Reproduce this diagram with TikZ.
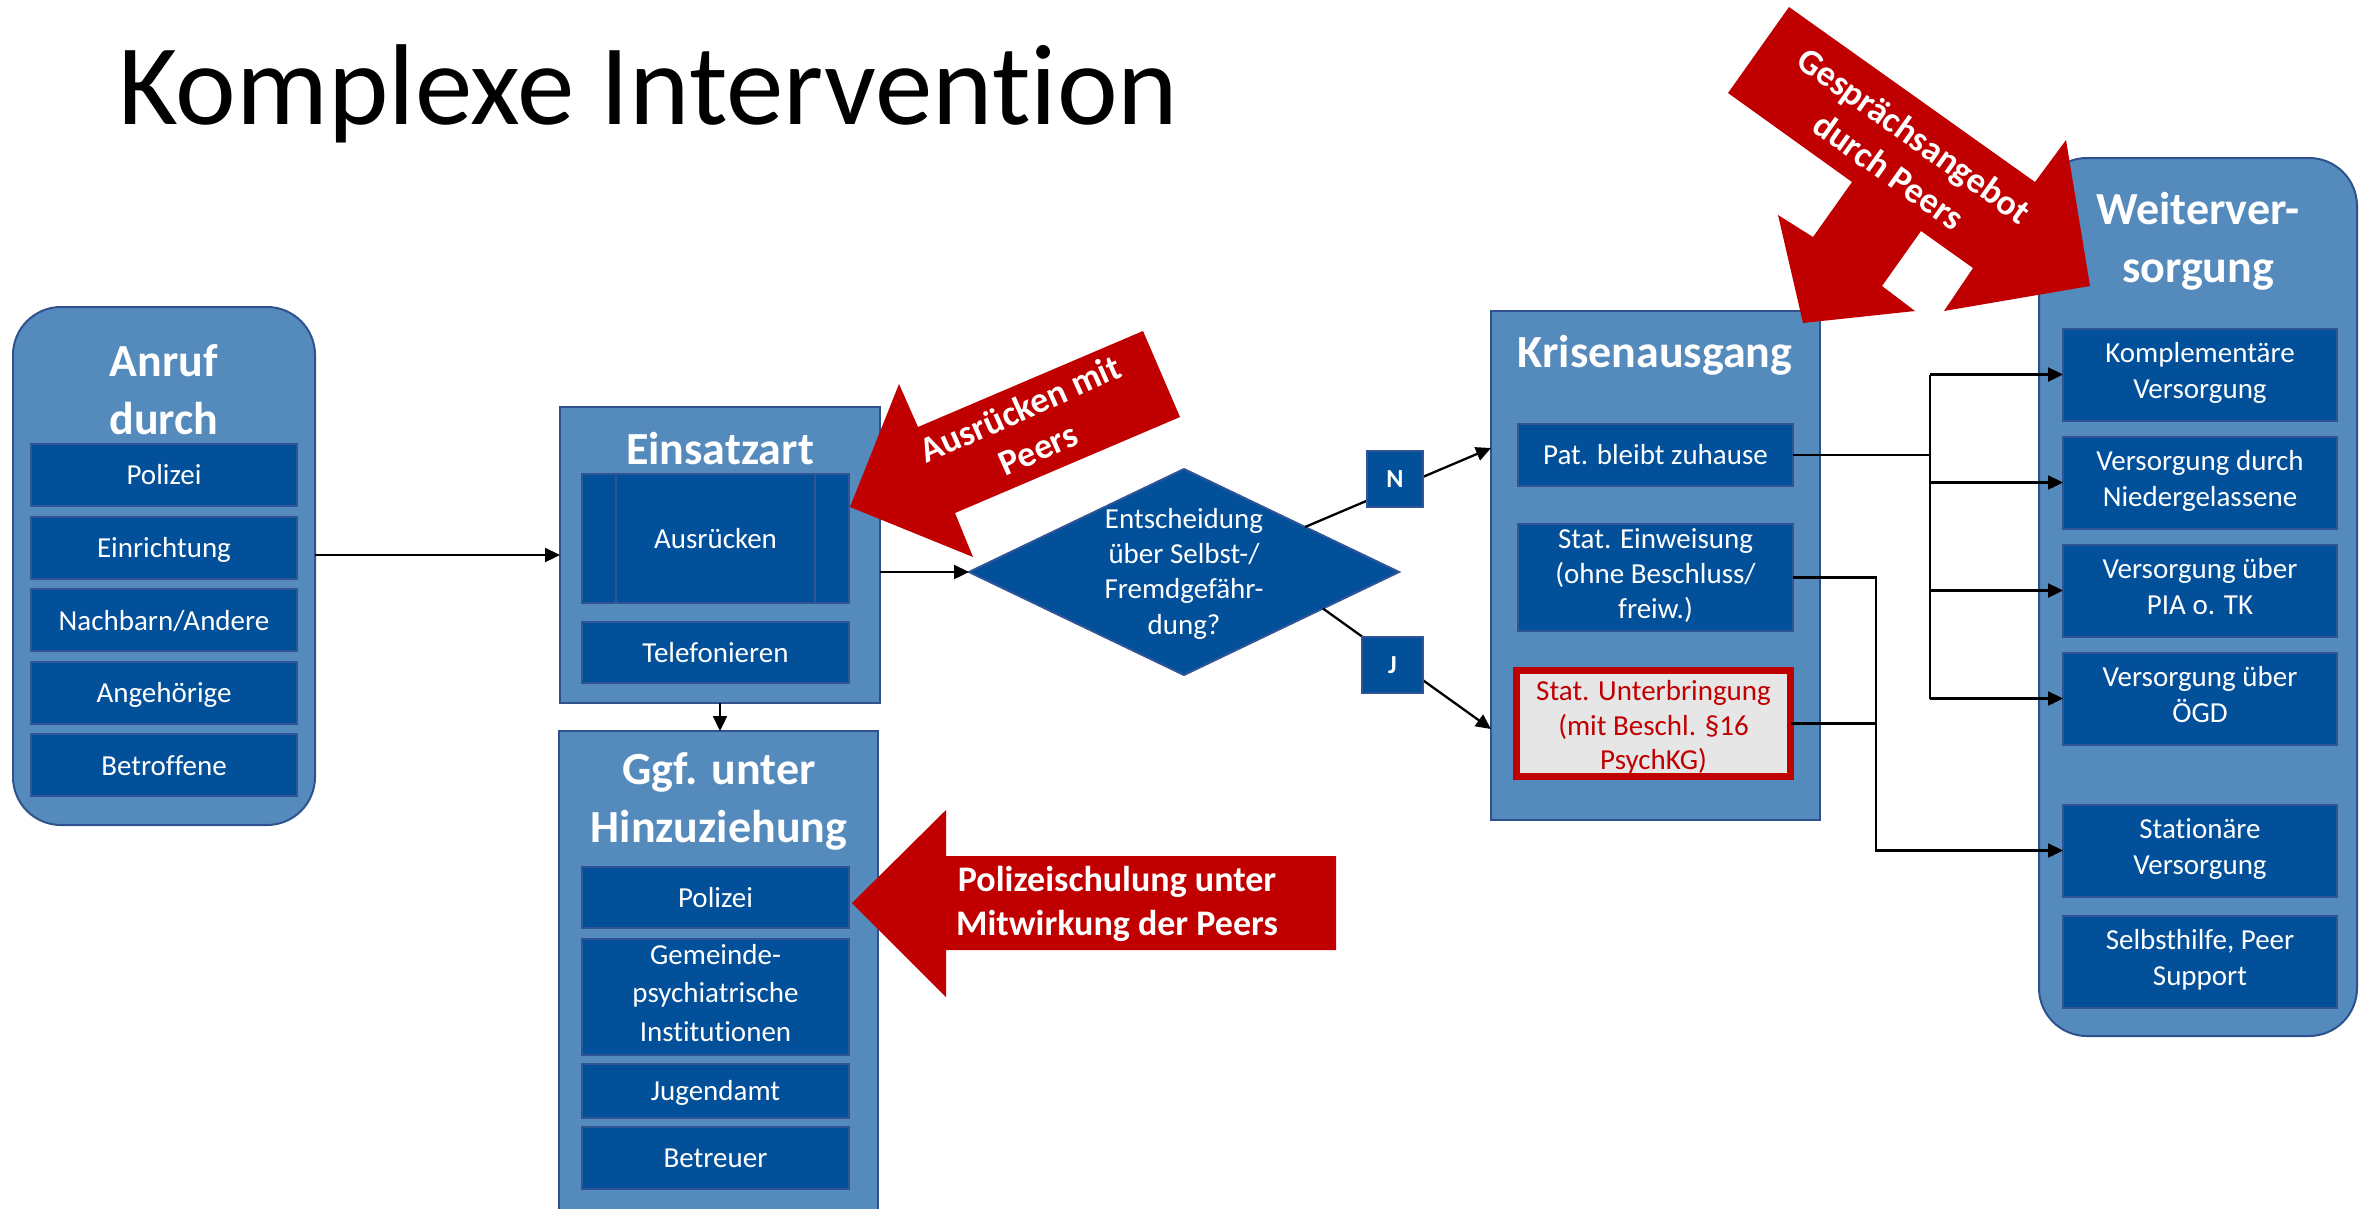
\documentclass[tikz,border=0pt]{standalone}
\usepackage{fontspec}
\setmainfont{Carlito}[Ligatures=NoCommon]
\usetikzlibrary{shapes.geometric,arrows.meta,calc}
\definecolor{boxF}{RGB}{2,80,154}
\definecolor{boxB}{RGB}{47,85,151}
\definecolor{contF}{RGB}{84,138,188}
\definecolor{contB}{RGB}{47,82,143}
\definecolor{arrRed}{RGB}{192,0,0}
\definecolor{grayF}{RGB}{230,230,230}
\newcommand\fsz[2]{\fontsize{#1pt}{#2pt}\selectfont}
\newcommand\mystrut{\rule[-0.22\baselineskip]{0pt}{\baselineskip}}
\begin{document}
\begin{tikzpicture}[x=1pt,y=-1pt,
  cont/.style={draw=contB, line width=2pt, fill=contF, inner sep=0pt, outer sep=0pt},
  ibox/.style={draw=boxB, line width=2pt, fill=boxF, text=white, font=\fsz{29}{35.4},
    align=center, inner sep=0pt, outer sep=0pt, minimum width=266pt,
    execute at begin node=\mystrut, execute at end node=\mystrut},
  ttl/.style={text=white, font=\bfseries\fsz{46}{58}, align=center, inner sep=0pt,
    execute at begin node=\mystrut, execute at end node=\mystrut},
  rtxt/.style={text=white, font=\bfseries\fsz{36}{44}, align=center, inner sep=0pt,
    execute at begin node=\mystrut, execute at end node=\mystrut},
  njbox/.style={draw=boxB, line width=2pt, fill=boxF, text=white, font=\bfseries\fsz{26}{31},
    minimum width=56pt, minimum height=56pt, inner sep=0pt, outer sep=0pt},
  conn/.style={line width=2.3pt, line join=miter},
  arr/.style={line width=2.3pt, line join=miter, -{Triangle[length=15pt,width=14pt]}},
  redshape/.style={fill=arrRed, draw=none}
]
\useasboundingbox (0,0) rectangle (2374,1208);
\fill[white] (0,0) rectangle (2374,1208);

% title
\node[anchor=base west, inner sep=0pt, font=\fsz{115}{138}] (title) at (118,124) {Komplexe Intervention};

% Anruf durch
\node[cont, rounded corners=48pt, minimum width=302pt, minimum height=518pt] (anruf) at (164,566) {};
\node[ttl] (anrufT) at (164,396) {Anruf\\durch};
\node[ibox, minimum height=62pt] (a1) at (164,475) {Polizei};
\node[ibox, minimum height=62pt] (a2) at (164,547.6) {Einrichtung};
\node[ibox, minimum height=62pt] (a3) at (164,620.2) {Nachbarn/Andere};
\node[ibox, minimum height=62pt] (a4) at (164,692.8) {Angehörige};
\node[ibox, minimum height=62pt] (a5) at (164,765.4) {Betroffene};

% Einsatzart
\node[cont, minimum width=320pt, minimum height=296pt] (einsatz) at (720,555) {};
\node[ttl] (einsatzT) at (720,448) {Einsatzart};
\node[ibox, minimum width=267pt, minimum height=129pt] (ausr) at (715.5,538.5) {Ausrücken};
\draw[boxB, line width=2pt] ([xshift=34pt]ausr.north west) -- ([xshift=34pt]ausr.south west)
  ([xshift=-34pt]ausr.north east) -- ([xshift=-34pt]ausr.south east);
\node[ibox, minimum width=267pt, minimum height=61pt] (tel) at (715.5,652.5) {Telefonieren};

% Ggf. unter Hinzuziehung
\node[cont, minimum width=319pt, minimum height=499pt] (ggf) at (718.5,980.5) {};
\node[ttl] (ggfT) at (719,804) {Ggf. unter\\Hinzuziehung};
\node[ibox, minimum width=267pt, minimum height=61pt] (g1) at (715.5,897.5) {Polizei};
\node[ibox, minimum width=267pt, minimum height=116pt, font=\fsz{29}{38.5}] (g2) at (715.5,997) {Gemeinde-\\psychiatrische\\Institutionen};
\node[ibox, minimum width=267pt, minimum height=54pt] (g3) at (715.5,1091) {Jugendamt};
\node[ibox, minimum width=267pt, minimum height=62pt] (g4) at (715.5,1158) {Betreuer};

% Krisenausgang
\node[cont, minimum width=329pt, minimum height=509pt] (kris) at (1655.5,565.5) {};
\node[ttl] (krisT) at (1655,351) {Krisenausgang};
\node[ibox, minimum width=275pt, minimum height=62pt] (pat) at (1655.5,455) {Pat. bleibt zuhause};
\node[ibox, minimum width=275pt, minimum height=107pt] (einw) at (1655.5,577.5) {Stat. Einweisung\\(ohne Beschluss/\\freiw.)};
\node[draw=arrRed, line width=7pt, fill=grayF, minimum width=274pt, minimum height=106pt,
  inner sep=0pt, outer sep=0pt] (unter) at (1653.5,723.5) {};
\node[text=arrRed, font=\fsz{29}{34.5}, align=center, inner sep=0pt,
  execute at begin node=\mystrut, execute at end node=\mystrut] (unterT) at (1653.5,729) {Stat. Unterbringung\\(mit Beschl. §16\\PsychKG)};

% Weiterversorgung
\node[cont, rounded corners=48pt, minimum width=318pt, minimum height=878pt] (weiter) at (2198,597) {};
\node[ttl] (weiterT) at (2198,244) {Weiterver-\\sorgung};
\node[ibox, minimum width=274pt, minimum height=92pt] (komp) at (2200,374.5) {Komplementäre\\Versorgung};
\node[ibox, minimum width=274pt, minimum height=92pt] (nied) at (2200,482.5) {Versorgung durch\\Niedergelassene};
\node[ibox, minimum width=274pt, minimum height=92pt] (pia) at (2200,590.5) {Versorgung über\\PIA o. TK};
\node[ibox, minimum width=274pt, minimum height=92pt] (oegd) at (2200,698.5) {Versorgung über\\ÖGD};
\node[ibox, minimum width=274pt, minimum height=92pt] (stat) at (2200,850.5) {Stationäre\\Versorgung};
\node[ibox, minimum width=274pt, minimum height=92pt] (selbst) at (2200,961.5) {Selbsthilfe, Peer\\Support};

% decision
\node[diamond, fill=boxF, draw=boxB, line width=2pt, minimum width=430pt, minimum height=206pt, inner sep=0pt, outer sep=0pt] (dia) at (1184,572) {};
\node[text=white, font=\fsz{29}{35.4}, align=center, inner sep=0pt,
  execute at begin node=\mystrut, execute at end node=\mystrut] (diaT) at (1184,575) {Entscheidung\\über Selbst-/\\Fremdgefähr-\\dung?};

% connectors
\draw[arr] (anruf.east |- einsatz.west) -- (einsatz.west);
\draw[arr] (einsatz.east |- dia.west) -- (dia.west);
\draw[arr] (einsatz.south) -- (einsatz.south |- ggf.north);
\coordinate (nEnd) at (1491,448);
\coordinate (jEnd) at (1491,729);
\draw[arr] ($(dia.east)!0.437!(dia.north)$) -- (nEnd);
\draw[arr] ($(dia.east)!0.354!(dia.south)$) -- (jEnd);
\node[njbox] (nN) at (1395,479) {N};
\node[njbox, minimum width=61pt] (nJ) at (1392.5,665) {J};

\coordinate (busA) at (1930,0);
\coordinate (busB) at (1876,0);
\draw[conn] (pat.east) -- (pat.east -| busA);
\draw[conn] (komp.west -| busA) -- (oegd.west -| busA);
\foreach \n in {komp,nied,pia,oegd} \draw[arr] (\n.west -| busA) -- (\n.west);
\draw[arr] (einw.east) -- (einw.east -| busB) -- (stat.west -| busB) -- (stat.west);
\draw[conn] (unter.east) -- (unter.east -| busB);

% red call-out arrows
\fill[redshape] (850,507) -- (899,384) -- (918,427) -- (1143,331) -- (1180,417) -- (955,513) -- (973,557) -- cycle;
\node[rtxt, rotate=24] (ausrT) at (1031,433) {Ausrücken mit\\Peers};

\fill[redshape] (852,903) -- (946,810) -- (946,856) -- (1336,856) -- (1336,950) -- (946,950) -- (946,997) -- cycle;
\node[rtxt] (polT) at (1117,906) {Polizeischulung unter\\Mitwirkung der Peers};

\fill[redshape] (1789,7) -- (2035,182) -- (2066,140) -- (2090,286) -- (1944,311) -- (1973,268)
  -- (1921,231) -- (1882,286) -- (1915,311) -- (1803,323) -- (1778,215) -- (1813,237)
  -- (1852,182) -- (1728,93) -- cycle;
\node[rtxt, rotate=-35.4] (gespT) at (1899,157) {Gesprächsangebot\\durch Peers};
\end{tikzpicture}
\end{document}
